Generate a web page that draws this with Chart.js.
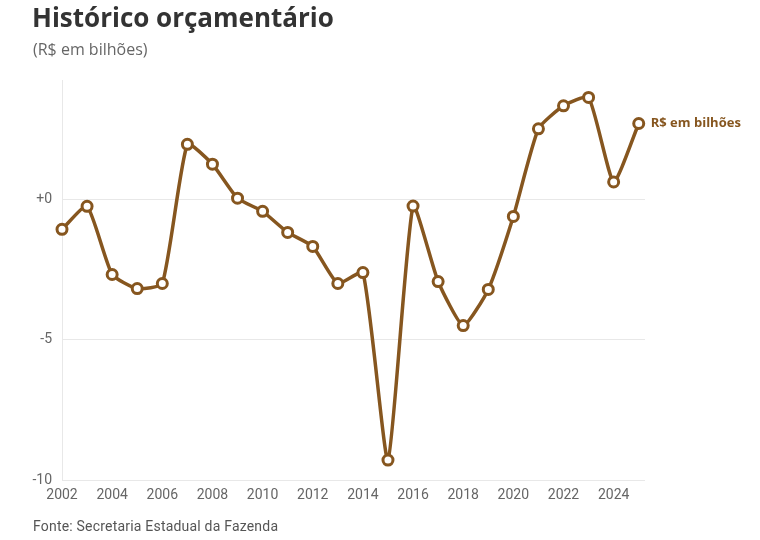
<!DOCTYPE html>
<html>
<head>
<meta charset="utf-8">
<script src="https://cdn.jsdelivr.net/npm/chart.js@4"></script>
<style>
  html, body { margin: 0; padding: 0; background: #ffffff; }
  #wrap { position: relative; width: 760px; height: 540px; overflow: hidden; font-family: Roboto, "Noto Sans", sans-serif; }
  #title { position: absolute; left: 32px; top: -1px; font-family: "Open Sans", sans-serif; font-size: 26px; font-weight: 700; color: #333333; white-space: nowrap; }
  #subtitle { position: absolute; left: 33px; top: 38px; font-family: "Open Sans", sans-serif; font-size: 16px; color: #666666; white-space: nowrap; }
  #source { position: absolute; left: 33px; top: 518px; font-size: 14px; color: #555555; white-space: nowrap; letter-spacing: 0.2px; }
  #cv { position: absolute; left: 0; top: 0; width: 760px; height: 540px; }
</style>
</head>
<body>
<div id="wrap">
  <div id="cv"><canvas id="chart"></canvas></div>
  <div id="title">Histórico orçamentário</div>
  <div id="subtitle">(R$ em bilhões)</div>
  <div id="source">Fonte: Secretaria Estadual da Fazenda</div>
</div>
<script>
const years = [2002, 2003, 2004, 2005, 2006, 2007, 2008, 2009, 2010, 2011, 2012, 2013,
               2014, 2015, 2016, 2017, 2018, 2019, 2020, 2021, 2022, 2023, 2024, 2025];
const values = [-1.07, -0.25, -2.68, -3.18, -3.0, 1.96, 1.25, 0.04, -0.43, -1.18, -1.68, -3.0,
                -2.61, -9.29, -0.24, -2.93, -4.5, -3.21, -0.61, 2.51, 3.33, 3.63, 0.62, 2.70];
const seriesName = "R$ em bilhões";
const xTicks = [2002, 2004, 2006, 2008, 2010, 2012, 2014, 2016, 2018, 2020, 2022, 2024];
const yTicks = [-10, -5, 0];
const yTickLabels = ["-10", "-5", "+0"];

const brown = "#86561f";

const endLabel = {
  id: "endLabel",
  afterDatasetsDraw(chart) {
    const meta = chart.getDatasetMeta(0);
    const last = meta.data[meta.data.length - 1];
    const ctx = chart.ctx;
    ctx.save();
    ctx.font = "700 13px 'Open Sans', sans-serif";
    ctx.fillStyle = brown;
    ctx.textAlign = "left";
    ctx.textBaseline = "middle";
    ctx.fillText(seriesName, last.x + 12, last.y);
    ctx.restore();
  }
};

new Chart(document.getElementById("chart"), {
  type: "line",
  data: {
    datasets: [{
      label: seriesName,
      data: years.map((y, i) => ({ x: y, y: values[i] })),
      borderColor: brown,
      borderWidth: 3.5,
      tension: 0.17,
      pointRadius: 5,
      pointBorderWidth: 3,
      pointBackgroundColor: "#ffffff",
      pointBorderColor: brown,
      clip: false
    }]
  },
  options: {
    responsive: true,
    maintainAspectRatio: false,
    animation: false,
    layout: { padding: { top: 80, right: 115, bottom: 30, left: 0 } },
    plugins: { legend: { display: false }, tooltip: { enabled: false } },
    scales: {
      x: {
        type: "linear",
        min: 2002,
        max: 2025.25,
        afterBuildTicks: (axis) => { axis.ticks = xTicks.map(v => ({ value: v })); },
        afterFit: (axis) => { axis.height = 30; },
        grid: { display: false, drawTicks: false },
        border: { display: false },
        ticks: {
          color: "#666666",
          font: { family: "Roboto, 'Noto Sans', sans-serif", size: 14 },
          padding: 7,
          maxRotation: 0,
          autoSkip: false,
          callback: (v) => String(v)
        }
      },
      y: {
        min: -10,
        max: 4.25,
        afterBuildTicks: (axis) => { axis.ticks = yTicks.map(v => ({ value: v })); },
        afterFit: (axis) => { axis.width = 62; },
        grid: { color: "#e8e8e8", lineWidth: 1, drawTicks: false },
        border: { display: true, color: "#e8e8e8", width: 1 },
        ticks: {
          color: "#666666",
          font: { family: "Roboto, 'Noto Sans', sans-serif", size: 14 },
          padding: 10,
          callback: (v) => { const i = yTicks.indexOf(v); return i >= 0 ? yTickLabels[i] : ""; }
        }
      }
    }
  },
  plugins: [endLabel]
});
</script>
</body>
</html>
